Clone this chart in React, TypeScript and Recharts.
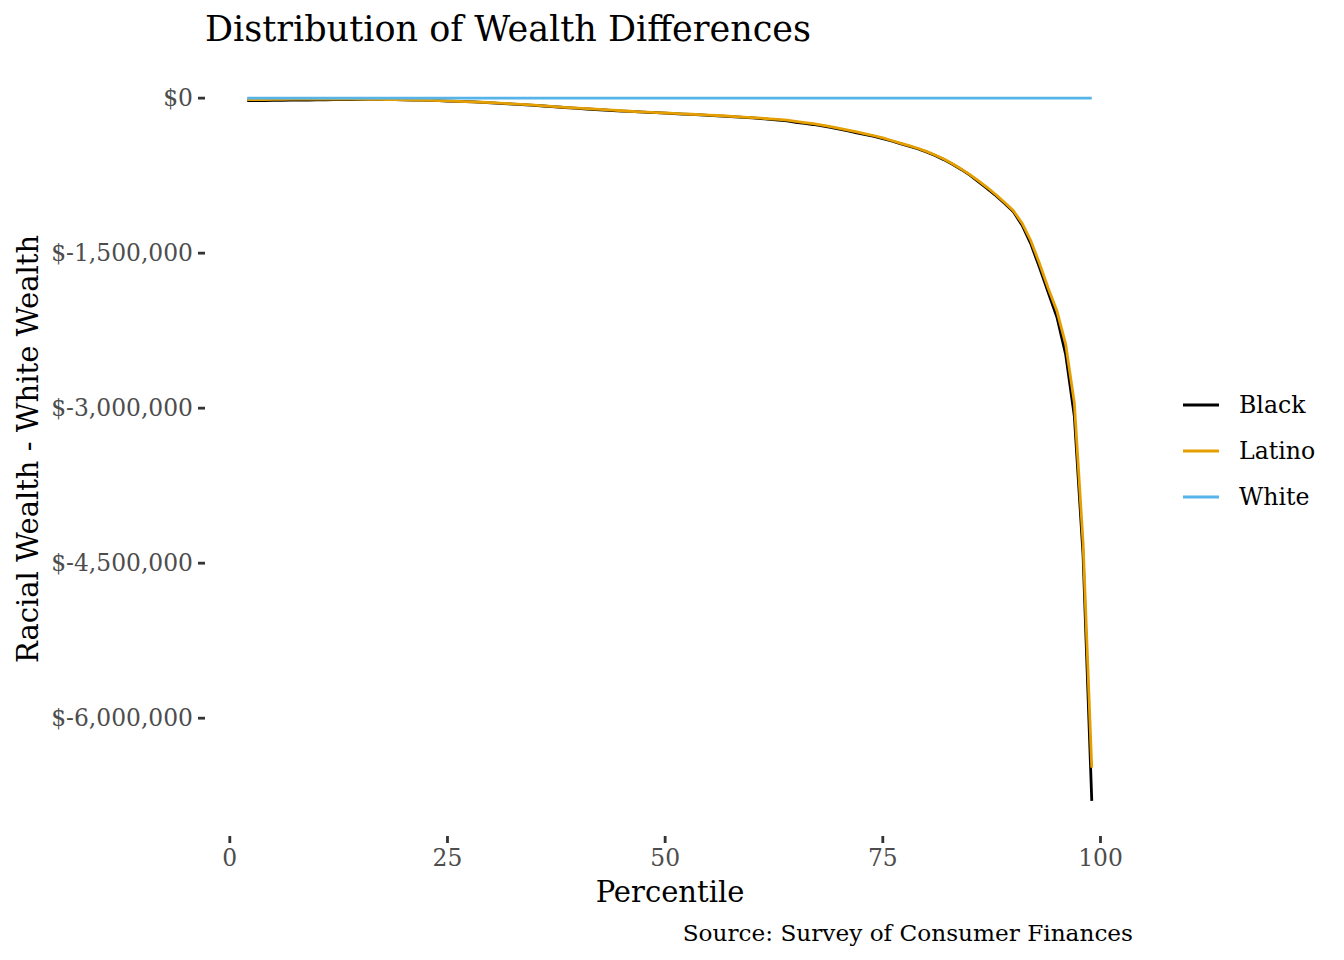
import { LineChart, Line, XAxis, YAxis } from "recharts";

const percentiles = [
  2, 3, 4, 5, 6, 7, 8, 9, 10, 11, 12, 13, 14, 15, 16, 17, 18, 19, 20, 21, 22, 23, 24, 25,
  26, 27, 28, 29, 30, 31, 32, 33, 34, 35, 36, 37, 38, 39, 40, 41, 42, 43, 44, 45, 46, 47, 48, 49,
  50, 51, 52, 53, 54, 55, 56, 57, 58, 59, 60, 61, 62, 63, 64, 65, 66, 67, 68, 69, 70, 71, 72, 73,
  74, 75, 76, 77, 78, 79, 80, 81, 82, 83, 84, 85, 86, 87, 88, 89, 90, 91, 92, 93, 94, 95, 96, 97,
  98, 99,
];

const blackDiff = [
  -25000, -24000, -23000, -22000, -21000, -20000, -19000, -18000, -17000, -16000, -15000, -14000,
  -13000, -12000, -12000, -12000, -13000, -14000, -16000, -18000, -20000, -22000, -25000, -28000,
  -31000, -34000, -37000, -41000, -45000, -50000, -55000, -60000, -65000, -70000, -76000, -82000,
  -88000, -94000, -100000, -105000, -110000, -115000, -120000, -125000, -129000, -133000, -137000,
  -141000, -146000, -150000, -154000, -158000, -162000, -166000, -171000, -176000, -181000, -186000,
  -192000, -198000, -205000, -212000, -220000, -235000, -245000, -255000, -268000, -283000, -300000,
  -318000, -335000, -352000, -370000, -392000, -415000, -440000, -465000, -490000, -520000, -555000,
  -595000, -640000, -690000, -745000, -810000, -875000, -945000, -1020000, -1100000, -1230000,
  -1410000, -1640000, -1880000, -2120000, -2480000, -3080000, -4420000, -6800000,
];

const latinoDiff = [
  -15000, -14000, -13000, -12000, -11000, -10000, -10000, -9000, -9000, -9000, -9000, -9000,
  -10000, -10000, -11000, -12000, -13000, -14000, -16000, -18000, -20000, -22000, -24000, -27000,
  -30000, -33000, -36000, -40000, -44000, -48000, -53000, -58000, -63000, -68000, -74000, -80000,
  -86000, -92000, -97000, -102000, -107000, -112000, -117000, -122000, -127000, -132000, -136000,
  -140000, -144000, -148000, -152000, -156000, -160000, -164000, -168000, -173000, -178000, -183000,
  -188000, -194000, -200000, -206000, -213000, -225000, -236000, -247000, -260000, -276000, -293000,
  -310000, -327000, -345000, -364000, -385000, -410000, -435000, -460000, -485000, -515000, -550000,
  -590000, -635000, -685000, -740000, -800000, -865000, -935000, -1010000, -1090000, -1210000,
  -1380000, -1600000, -1840000, -2060000, -2380000, -2950000, -4300000, -6480000,
];

const whiteDiff = [
  0, 0, 0, 0, 0, 0, 0, 0, 0, 0, 0, 0, 0, 0, 0, 0, 0, 0, 0, 0, 0, 0, 0, 0, 0, 0, 0, 0, 0, 0, 0, 0,
  0, 0, 0, 0, 0, 0, 0, 0, 0, 0, 0, 0, 0, 0, 0, 0, 0, 0, 0, 0, 0, 0, 0, 0, 0, 0, 0, 0, 0, 0, 0, 0,
  0, 0, 0, 0, 0, 0, 0, 0, 0, 0, 0, 0, 0, 0, 0, 0, 0, 0, 0, 0, 0, 0, 0, 0, 0, 0, 0, 0, 0, 0, 0, 0,
  0, 0,
];

const xTicks = [0, 25, 50, 75, 100];
const yTicks = [0, -1500000, -3000000, -4500000, -6000000];

const series = [
  { key: "Black", color: "#000000" },
  { key: "Latino", color: "#E69F00" },
  { key: "White", color: "#56B4E9" },
];

const data = percentiles.map((p, i) => ({
  percentile: p,
  Black: blackDiff[i],
  Latino: latinoDiff[i],
  White: whiteDiff[i],
}));

const FONT = "'DejaVu Serif', serif";
const W = 1328;
const H = 944;

const formatDollar = (v: number) => "$" + v.toLocaleString("en-US");

export default function App() {
  return (
    <div style={{ position: "relative", width: W, height: H, fontFamily: FONT, background: "#fff" }}>
      <LineChart
        width={W}
        height={H}
        data={data}
        margin={{ top: 55, right: 202, bottom: 26, left: 0 }}
      >
        <XAxis
          dataKey="percentile"
          type="number"
          domain={[-2.85, 103.85]}
          ticks={xTicks}
          axisLine={false}
          tickLine={{ stroke: "#333333", strokeWidth: 2.8 }}
          tickSize={7}
          tickMargin={6}
          height={90}
          tick={{ fill: "#4d4d4d", fontSize: 23.4, fontFamily: FONT }}
        />
        <YAxis
          type="number"
          domain={[-7140000, 340000]}
          ticks={yTicks}
          tickFormatter={formatDollar}
          axisLine={false}
          tickLine={{ stroke: "#333333", strokeWidth: 2.8 }}
          tickSize={7}
          tickMargin={5}
          width={197}
          tick={{ fill: "#4d4d4d", fontSize: 23.4, fontFamily: FONT }}
        />
        {series.map((s) => (
          <Line
            key={s.key}
            type="linear"
            dataKey={s.key}
            stroke={s.color}
            strokeWidth={2.8}
            dot={false}
            isAnimationActive={false}
          />
        ))}
      </LineChart>

      <div
        style={{
          position: "absolute",
          left: 197,
          top: 4,
          fontSize: 35,
          lineHeight: 1,
          color: "#000",
          whiteSpace: "nowrap",
        }}
      >
        Distribution of Wealth Differences
      </div>

      <div
        style={{
          position: "absolute",
          left: 662,
          top: 884,
          transform: "translate(-50%, -50%)",
          fontSize: 29,
          color: "#000",
          whiteSpace: "nowrap",
        }}
      >
        Percentile
      </div>

      <div
        style={{
          position: "absolute",
          left: 20,
          top: 441,
          transform: "translate(-50%, -50%) rotate(-90deg)",
          fontSize: 29,
          color: "#000",
          whiteSpace: "nowrap",
        }}
      >
        Racial Wealth - White Wealth
      </div>

      <div
        style={{
          position: "absolute",
          right: W - 1125,
          top: 924,
          transform: "translateY(-50%)",
          fontSize: 23.2,
          color: "#000",
          whiteSpace: "nowrap",
        }}
      >
        Source: Survey of Consumer Finances
      </div>

      <div style={{ position: "absolute", left: 1175, top: 374 }}>
        {series.map((s) => (
          <div key={s.key} style={{ display: "flex", alignItems: "center", height: 46 }}>
            <svg width={36} height={4} style={{ marginRight: 20 }}>
              <line x1={0} y1={2} x2={36} y2={2} stroke={s.color} strokeWidth={2.8} />
            </svg>
            <span style={{ fontSize: 23.6, color: "#000" }}>{s.key}</span>
          </div>
        ))}
      </div>
    </div>
  );
}
